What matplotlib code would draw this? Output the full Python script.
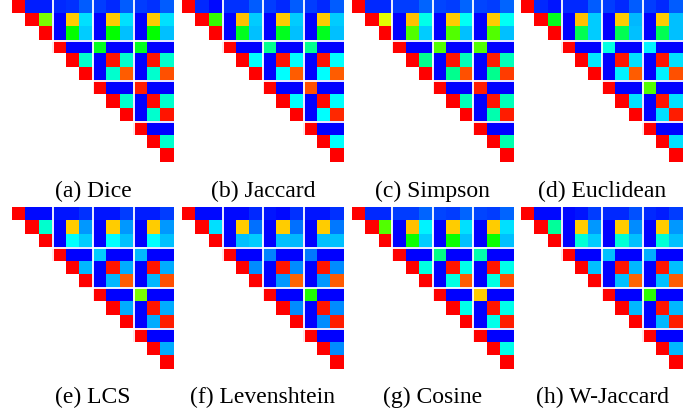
import numpy as np
import matplotlib
matplotlib.use("Agg")
import matplotlib.pyplot as plt
from matplotlib.colors import LinearSegmentedColormap

# Upper-triangle similarity values (row r holds columns r..11)
dice = [
    [1, 0.03, 0.03, 0.04, 0.05, 0.09, 0.06, 0.04, 0.09, 0.06, 0.05, 0.09],
    [1, 0.62, 0, 0.80, 0.22, 0, 0.80, 0.22, 0, 0.80, 0.22],
    [1, 0, 0.50, 0.20, 0, 0.50, 0.19, 0, 0.50, 0.19],
    [1, 0, 0, 0.47, 0, 0, 0.47, 0, 0],
    [1, 0.30, 0, 0.98, 0.30, 0, 0.98, 0.30],
    [1, 0, 0.30, 0.91, 0, 0.30, 0.92],
    [1, 0, 0, 0.97, 0, 0],
    [1, 0.30, 0, 0.99, 0.30],
    [1, 0, 0.30, 0.98],
    [1, 0, 0],
    [1, 0.30],
    [1],
]
jaccard = [
    [1, 0.04, 0.01, 0.05, 0.05, 0.09, 0.06, 0.04, 0.09, 0.06, 0.04, 0.09],
    [1, 0.55, 0, 0.81, 0.20, 0, 0.80, 0.20, 0, 0.80, 0.20],
    [1, 0, 0.47, 0.19, 0, 0.47, 0.19, 0, 0.47, 0.19],
    [1, 0, 0, 0.36, 0, 0, 0.36, 0, 0],
    [1, 0.25, 0, 0.98, 0.25, 0, 0.98, 0.25],
    [1, 0, 0.25, 0.91, 0, 0.25, 0.91],
    [1, 0, 0, 0.92, 0, 0],
    [1, 0.25, 0, 0.99, 0.25],
    [1, 0, 0.25, 0.96],
    [1, 0, 0],
    [1, 0.25],
    [1],
]
simpson = [
    [1, 0.04, 0.04, 0.06, 0.06, 0.10, 0.07, 0.06, 0.10, 0.07, 0.06, 0.10],
    [1, 0.72, 0, 0.81, 0.27, 0, 0.80, 0.26, 0, 0.80, 0.26],
    [1, 0, 0.58, 0.20, 0, 0.58, 0.19, 0, 0.58, 0.19],
    [1, 0, 0, 0.58, 0, 0, 0.58, 0, 0],
    [1, 0.36, 0, 0.98, 0.32, 0, 0.97, 0.32],
    [1, 0, 0.36, 0.92, 0, 0.36, 0.94],
    [1, 0, 0, 0.97, 0, 0],
    [1, 0.32, 0, 0.98, 0.32],
    [1, 0, 0.33, 0.97],
    [1, 0, 0],
    [1, 0.33],
    [1],
]
euclidean = [
    [1, 0.04, 0.02, 0.04, 0.04, 0.09, 0.06, 0.04, 0.09, 0.06, 0.04, 0.09],
    [1, 0.47, 0, 0.81, 0.20, 0, 0.80, 0.18, 0, 0.80, 0.19],
    [1, 0, 0.42, 0.20, 0, 0.42, 0.19, 0, 0.42, 0.19],
    [1, 0, 0, 0.28, 0, 0, 0.24, 0, 0],
    [1, 0.23, 0, 0.98, 0.22, 0, 0.98, 0.22],
    [1, 0, 0.24, 0.91, 0, 0.24, 0.92],
    [1, 0, 0, 0.58, 0, 0],
    [1, 0.22, 0, 0.98, 0.22],
    [1, 0, 0.22, 0.97],
    [1, 0, 0],
    [1, 0.22],
    [1],
]
lcs = [
    [1, 0.01, 0.01, 0.02, 0.02, 0.05, 0.02, 0.02, 0.06, 0.03, 0.03, 0.06],
    [1, 0.30, 0, 0.80, 0.15, 0, 0.80, 0.15, 0, 0.80, 0.15],
    [1, 0, 0.25, 0.20, 0, 0.25, 0.19, 0, 0.25, 0.19],
    [1, 0, 0, 0.20, 0, 0, 0.18, 0, 0],
    [1, 0.18, 0, 0.98, 0.17, 0, 0.98, 0.17],
    [1, 0, 0.18, 0.91, 0, 0.18, 0.92],
    [1, 0, 0, 0.62, 0, 0],
    [1, 0.17, 0, 0.98, 0.17],
    [1, 0, 0.17, 0.97],
    [1, 0, 0],
    [1, 0.17],
    [1],
]
levenshtein = [
    [1, 0.01, 0.01, 0.01, 0.01, 0.04, 0.02, 0.01, 0.05, 0.02, 0.02, 0.05],
    [1, 0.22, 0, 0.80, 0.11, 0, 0.80, 0.11, 0, 0.80, 0.12],
    [1, 0, 0.19, 0.20, 0, 0.19, 0.18, 0, 0.19, 0.19],
    [1, 0, 0, 0.13, 0, 0, 0.12, 0, 0],
    [1, 0.14, 0, 0.98, 0.14, 0, 0.98, 0.14],
    [1, 0, 0.15, 0.90, 0, 0.15, 0.91],
    [1, 0, 0, 0.53, 0, 0],
    [1, 0.14, 0, 0.98, 0.14],
    [1, 0, 0.14, 0.97],
    [1, 0, 0],
    [1, 0.14],
    [1],
]
cosine = [
    [1, 0.04, 0.04, 0.06, 0.06, 0.10, 0.07, 0.06, 0.10, 0.07, 0.06, 0.10],
    [1, 0.58, 0, 0.81, 0.24, 0, 0.80, 0.22, 0, 0.80, 0.22],
    [1, 0, 0.51, 0.20, 0, 0.51, 0.19, 0, 0.51, 0.19],
    [1, 0, 0, 0.37, 0, 0, 0.33, 0, 0],
    [1, 0.28, 0, 0.98, 0.27, 0, 0.98, 0.27],
    [1, 0, 0.28, 0.91, 0, 0.28, 0.92],
    [1, 0, 0, 0.80, 0, 0],
    [1, 0.27, 0, 0.98, 0.27],
    [1, 0, 0.27, 0.97],
    [1, 0, 0],
    [1, 0.27],
    [1],
]
w_jaccard = [
    [1, 0.01, 0.01, 0.01, 0.02, 0.06, 0.04, 0.04, 0.08, 0.04, 0.03, 0.06],
    [1, 0.35, 0, 0.80, 0.15, 0, 0.80, 0.14, 0, 0.80, 0.15],
    [1, 0, 0.29, 0.20, 0, 0.29, 0.19, 0, 0.29, 0.19],
    [1, 0, 0, 0.19, 0, 0, 0.17, 0, 0],
    [1, 0.19, 0, 0.98, 0.18, 0, 0.98, 0.19],
    [1, 0, 0.19, 0.90, 0, 0.19, 0.91],
    [1, 0, 0, 0.54, 0, 0],
    [1, 0.18, 0, 0.98, 0.18],
    [1, 0, 0.18, 0.97],
    [1, 0, 0],
    [1, 0.18],
    [1],
]

panels = [dice, jaccard, simpson, euclidean, lcs, levenshtein, cosine, w_jaccard]
captions = ["(a) Dice", "(b) Jaccard", "(c) Simpson", "(d) Euclidean",
            "(e) LCS", "(f) Levenshtein", "(g) Cosine", "(h) W-Jaccard"]

cmap = LinearSegmentedColormap.from_list(
    "bcgyr", ["#0000ff", "#00ffff", "#00ff00", "#ffff00", "#ff0000"])
cmap.set_bad("white")

W, H = 697, 412
fig = plt.figure(figsize=(W / 100, H / 100), dpi=100)

lefts = [12, 182, 351.5, 521]
tops = [0, 207]
size = 162
cap_base = [197, 403]

for i, tri in enumerate(panels):
    n = len(tri)
    M = np.full((n, n), np.nan)
    for r, row in enumerate(tri):
        M[r, r:] = row
    col, rowi = i % 4, i // 4
    ax = fig.add_axes([lefts[col] / W, 1 - (tops[rowi] + size) / H, size / W, size / H])
    ax.imshow(np.ma.masked_invalid(M), cmap=cmap, vmin=0, vmax=1,
              interpolation="nearest", aspect="auto")
    for b in (2.5, 5.5, 8.5):
        ax.axvline(b, color="white", lw=1.3)
        ax.axhline(b, color="white", lw=1.3)
    ax.set_xlim(-0.5, n - 0.5)
    ax.set_ylim(n - 0.5, -0.5)
    ax.axis("off")
    fig.text((lefts[col] + size / 2) / W, 1 - cap_base[rowi] / H, captions[i],
             ha="center", va="baseline", fontsize=17, family="Liberation Serif")

fig.savefig("out.png", dpi=100)
